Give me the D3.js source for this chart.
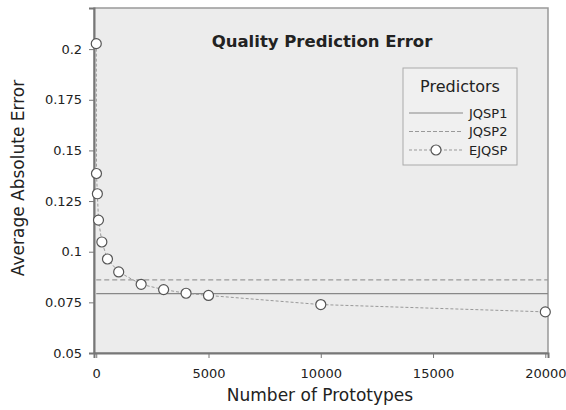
<html>
<head>
    <script src="https://d3js.org/d3.v7.min.js"></script>
    <style>
        body { margin: 0; background: #fff; }
        text { font-family: "DejaVu Sans", sans-serif; fill: #222; }
    </style>
</head>
<body>
    <svg id="plot"></svg>
    <script>
        // data
        var prototypes = [1, 10, 50, 100, 250, 500, 1000, 2000, 3000, 4000, 5000, 10000, 20000];
        var ejqsp = [0.2027, 0.1386, 0.1286, 0.1156, 0.1048, 0.0964, 0.0900, 0.0839, 0.0813, 0.0795, 0.0784, 0.0739, 0.0703];
        var jqsp1 = 0.0793;
        var jqsp2 = 0.0861;
        var xTicks = [0, 5000, 10000, 15000, 20000];
        var yTicks = [0.05, 0.075, 0.1, 0.125, 0.15, 0.175, 0.2];
        var legendNames = ["JQSP1", "JQSP2", "EJQSP"];

        var SizeX = 566, SizeY = 410;
        var Margin = { left: 94, right: 18, top: 8, bottom: 57 };

        var svg = d3.select("#plot")
            .attr("width", SizeX)
            .attr("height", SizeY);

        var x_scale = d3.scaleLinear()
            .domain([-100, 20120])
            .range([Margin.left, SizeX - Margin.right]);
        var y_scale = d3.scaleLinear()
            .domain([0.05, 0.2203])
            .range([SizeY - Margin.bottom, Margin.top]);

        // plot background
        svg.append("rect")
            .attr("x", Margin.left).attr("y", Margin.top)
            .attr("width", SizeX - Margin.right - Margin.left)
            .attr("height", SizeY - Margin.bottom - Margin.top)
            .attr("fill", "#ececec")
            .attr("stroke", "#999").attr("stroke-width", 1.5);

        // axes
        var x_axis = d3.axisBottom(x_scale).tickValues(xTicks).tickSize(5).tickFormat(d3.format("d"));
        var y_axis = d3.axisLeft(y_scale).tickValues(yTicks).tickSize(5).tickFormat(function(d){ return String(+d.toFixed(3)); });

        var xg = svg.append("g")
            .attr("transform", "translate(0," + (SizeY - Margin.bottom) + ")")
            .call(x_axis);
        var yg = svg.append("g")
            .attr("transform", "translate(" + Margin.left + ",0)")
            .call(y_axis);
        [xg, yg].forEach(function(g){
            g.select(".domain").attr("stroke", "#777").attr("stroke-width", 2);
            g.selectAll(".tick line").attr("stroke", "#777");
            g.selectAll(".tick text").attr("font-size", 13).attr("fill", "#222")
                .attr("font-family", "DejaVu Sans, sans-serif");
        });
        xg.selectAll(".tick text").attr("dy", "1.3em");
        yg.selectAll(".tick text").attr("dx", "-0.3em");

        // reference lines
        svg.append("line")
            .attr("x1", x_scale(0)).attr("x2", SizeX - Margin.right)
            .attr("y1", y_scale(jqsp1)).attr("y2", y_scale(jqsp1))
            .attr("stroke", "#888").attr("stroke-width", 1.2);
        svg.append("line")
            .attr("x1", x_scale(0)).attr("x2", SizeX - Margin.right)
            .attr("y1", y_scale(jqsp2)).attr("y2", y_scale(jqsp2))
            .attr("stroke", "#999").attr("stroke-width", 1.2)
            .attr("stroke-dasharray", "5,3");

        // EJQSP curve
        var pts = prototypes.map(function(p, i){ return { x: p, y: ejqsp[i] }; });
        svg.append("path")
            .datum(pts)
            .attr("fill", "none")
            .attr("stroke", "#999").attr("stroke-width", 1)
            .attr("stroke-dasharray", "3,2")
            .attr("d", d3.line()
                .x(function(d){ return x_scale(d.x); })
                .y(function(d){ return y_scale(d.y); }));
        svg.selectAll(".dot")
            .data(pts)
            .enter()
            .append("circle").classed("dot", true)
                .attr("cx", function(d){ return x_scale(d.x); })
                .attr("cy", function(d){ return y_scale(d.y); })
                .attr("r", 5)
                .attr("fill", "#fff")
                .attr("stroke", "#555").attr("stroke-width", 1.2);

        // title
        svg.append("text")
            .attr("x", 322).attr("y", 47)
            .attr("text-anchor", "middle")
            .attr("font-size", 16.5).attr("font-weight", "bold")
            .attr("fill", "#111")
            .text("Quality Prediction Error");

        // axis titles
        svg.append("text")
            .attr("x", 320).attr("y", 401)
            .attr("text-anchor", "middle")
            .attr("font-size", 17)
            .text("Number of Prototypes");
        svg.append("text")
            .attr("transform", "translate(24," + 178 + ") rotate(-90)")
            .attr("text-anchor", "middle")
            .attr("font-size", 17)
            .text("Average Absolute Error");

        // legend
        var lg = svg.append("g");
        lg.append("rect")
            .attr("x", 403).attr("y", 68)
            .attr("width", 114).attr("height", 97)
            .attr("fill", "#f0f0f0")
            .attr("stroke", "#aaa").attr("stroke-width", 1);
        lg.append("text")
            .attr("x", 460).attr("y", 92)
            .attr("text-anchor", "middle")
            .attr("font-size", 16)
            .text("Predictors");
        var rowY = [113, 131.5, 150];
        legendNames.forEach(function(name, i){
            var line = lg.append("line")
                .attr("x1", 409).attr("x2", 463)
                .attr("y1", rowY[i]).attr("y2", rowY[i])
                .attr("stroke", i === 0 ? "#888" : "#999")
                .attr("stroke-width", 1);
            if (i === 1) line.attr("stroke-dasharray", "4,2");
            if (i === 2) {
                line.attr("stroke-dasharray", "3,2");
                lg.append("circle")
                    .attr("cx", 436).attr("cy", rowY[i]).attr("r", 5)
                    .attr("fill", "#fff").attr("stroke", "#555").attr("stroke-width", 1.2);
            }
            lg.append("text")
                .attr("x", 469).attr("y", rowY[i] + 4.5)
                .attr("font-size", 13)
                .text(name);
        });
    </script>
</body>
</html>
